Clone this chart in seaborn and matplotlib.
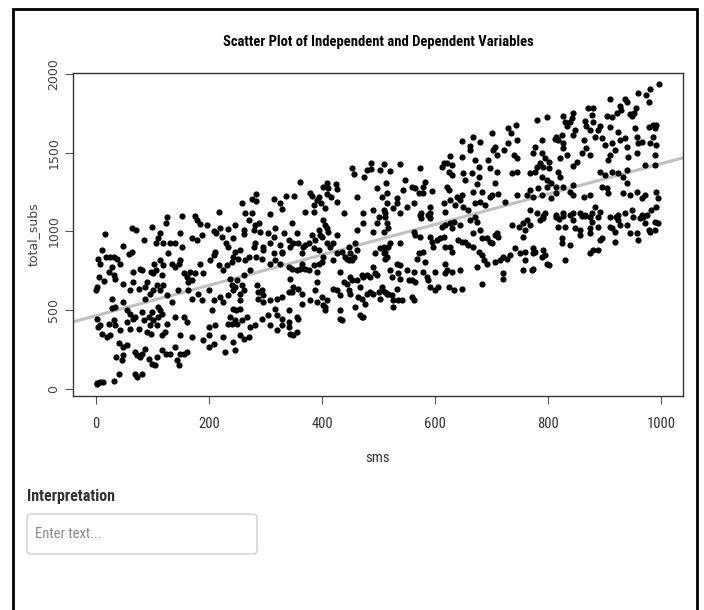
import os
import pandas as pd
import seaborn as sns
import matplotlib.pyplot as plt
from matplotlib import font_manager
from matplotlib.font_manager import FontProperties
from matplotlib.patches import Rectangle, FancyBboxPatch

# (sms, total_subs), split by region of the plot
pts_0_240 = [
    (126, 1094), (124, 1051), (152, 1098), (175, 1098), (179, 1072), (218, 1125), (184, 1047), (197, 1040),
    (209, 1004), (219, 1019), (234, 1015), (16, 983), (63, 1019), (71, 1009), (98, 1026), (84, 945),
    (113, 992), (109, 956), (106, 924), (119, 924), (130, 924), (140, 928), (149, 992), (152, 902),
    (169, 956), (178, 945), (187, 977), (213, 987), (222, 966), (230, 924), (234, 902), (48, 907),
    (63, 871), (59, 854), (10, 881), (4, 822), (18, 839), (24, 835), (31, 839), (37, 822), (42, 796),
    (28, 775), (22, 743), (31, 722), (7, 796), (5, 711), (14, 686), (1, 648), (0, 626), (34, 701),
    (48, 669), (65, 743), (78, 764), (81, 754), (66, 680), (60, 626), (75, 637), (87, 648), (90, 680),
    (97, 743), (100, 733), (106, 754), (103, 796), (113, 818), (118, 786), (116, 722), (107, 658),
    (113, 626), (101, 626), (96, 605), (87, 573), (128, 860), (134, 796), (140, 775), (146, 796),
    (149, 818), (155, 733), (160, 711), (163, 680), (169, 690), (166, 743), (175, 733), (184, 796),
    (190, 733), (181, 605), (169, 573), (163, 626), (145, 626), (134, 552), (125, 595), (119, 658),
    (202, 818), (208, 850), (211, 871), (217, 786), (225, 754), (231, 786), (219, 584), (225, 552),
    (234, 595), (199, 626), (208, 563), (205, 499), (187, 563), (28, 573), (28, 516), (34, 520),
    (48, 552), (54, 499), (60, 478), (69, 457), (66, 446), (81, 488), (84, 435), (93, 457), (96, 404),
    (99, 488), (110, 520), (113, 499), (110, 457), (116, 478), (101, 435), (1, 446), (4, 393),
    (10, 351), (7, 404), (22, 414), (31, 435), (34, 404), (42, 372), (54, 425), (60, 382), (75, 382),
    (90, 361), (97, 351), (107, 404), (116, 340), (122, 361), (125, 414), (140, 457), (155, 457),
    (160, 425), (149, 340), (169, 329), (199, 393), (199, 340), (211, 404), (225, 329), (234, 414),
    (19, 329), (25, 340), (41, 291), (48, 266), (54, 276), (35, 202), (45, 181), (48, 213), (69, 234),
    (72, 213), (78, 202), (81, 223), (87, 255), (93, 191), (99, 160), (104, 149), (107, 202),
    (116, 244), (124, 223), (131, 223), (143, 181), (146, 149), (149, 223), (155, 223), (140, 266),
    (160, 234), (190, 308), (199, 266), (208, 287), (228, 234), (69, 96), (72, 75), (81, 96),
    (1, 32), (2, 36), (7, 41), (12, 45), (31, 49), (41, 96),
]

pts_240_515_low = [
    (246, 1040), (243, 956), (261, 983), (262, 1009), (270, 1072), (282, 1040), (279, 1009), (282, 924),
    (290, 998), (289, 1051), (296, 881), (293, 828), (305, 987), (314, 966), (307, 924), (314, 860),
    (317, 1019), (326, 913), (329, 871), (332, 987), (341, 945), (343, 902), (346, 1051), (349, 924),
    (355, 987), (358, 924), (364, 860), (367, 902), (370, 913), (376, 924), (382, 977), (385, 892),
    (388, 945), (394, 1009), (397, 977), (395, 881), (399, 966), (402, 1072), (405, 1040), (408, 1019),
    (411, 998), (408, 924), (414, 902), (420, 924), (426, 977), (426, 860), (435, 871), (441, 839),
    (447, 902), (450, 860), (453, 828), (458, 924), (461, 881), (461, 1009), (473, 1051), (491, 998),
    (494, 860), (497, 1051), (500, 1094), (509, 902), (512, 871), (515, 839),
    (240, 807), (243, 839), (246, 871), (255, 881), (252, 828), (264, 818), (270, 839), (273, 754),
    (279, 902), (283, 839), (296, 902), (308, 796), (317, 818), (326, 796), (329, 860), (341, 775),
    (346, 764), (355, 754), (361, 764), (364, 796), (370, 764), (376, 754), (385, 786), (391, 743),
    (394, 796), (399, 807), (402, 839), (420, 818), (432, 743), (444, 828), (448, 818), (453, 818),
    (456, 839), (450, 711), (461, 690), (470, 722), (473, 711), (479, 722), (485, 711), (491, 775),
    (494, 733), (497, 722), (237, 701), (249, 690), (261, 722),
    (240, 658), (243, 626), (246, 648), (258, 658), (261, 626), (255, 605), (255, 563), (243, 510),
    (248, 499), (255, 510), (267, 457), (284, 658), (287, 616), (293, 626), (296, 595), (296, 552),
    (287, 573), (308, 563), (320, 573), (329, 584), (341, 616), (349, 648), (343, 701), (346, 616),
    (358, 637), (364, 605), (364, 542), (379, 563), (388, 626), (391, 680), (391, 552), (399, 584),
    (402, 531), (405, 520), (405, 499), (408, 563), (420, 637), (426, 626), (432, 595), (432, 499),
    (438, 680), (444, 669), (447, 626), (450, 605), (453, 690), (458, 520), (464, 584), (467, 648),
    (470, 573), (476, 542), (479, 605), (485, 616), (491, 605), (500, 616), (506, 626), (515, 605),
    (237, 457), (240, 414), (246, 435), (249, 414), (258, 435), (273, 393), (282, 404), (293, 446),
    (305, 467), (317, 510), (320, 467), (308, 404), (320, 372), (329, 446), (329, 404), (341, 499),
    (341, 425), (341, 393), (343, 351), (349, 340), (355, 361), (355, 457), (358, 446), (243, 297),
    (246, 244), (255, 340), (261, 319), (270, 329), (432, 446), (435, 435), (467, 467), (470, 457),
    (473, 457),
]

pts_240_500_high = [
    (258, 1178), (264, 1118), (276, 1114), (276, 1203), (283, 1237), (283, 1195), (308, 1110),
    (315, 1203), (326, 1182), (329, 1140), (336, 1224), (350, 1224), (361, 1316), (379, 1246),
    (382, 1224), (385, 1167), (391, 1199), (395, 1220), (398, 1178), (401, 1284), (409, 1309),
    (411, 1273), (408, 1237), (415, 1220), (425, 1301), (426, 1267), (426, 1188), (439, 1118),
    (453, 1401), (456, 1365), (461, 1216), (474, 1343), (479, 1390), (486, 1437), (486, 1394),
    (498, 1273), (491, 1135), (472, 1114), (405, 1146), (385, 1125), (370, 1125),
]

pts_500_765_high = [
    (730, 1655), (743, 1677), (734, 1624), (745, 1581), (700, 1624), (668, 1602), (679, 1570),
    (647, 1577), (661, 1543), (662, 1517), (706, 1539), (709, 1486), (722, 1517), (730, 1560),
    (739, 1486), (745, 1464), (736, 1369), (745, 1379), (694, 1454), (697, 1401), (703, 1517),
    (677, 1411), (671, 1454), (665, 1369), (677, 1348), (627, 1479), (647, 1475), (615, 1433),
    (621, 1433), (612, 1411), (630, 1422), (625, 1379), (630, 1358), (574, 1401), (538, 1428),
    (509, 1428), (503, 1390), (520, 1386), (513, 1305), (547, 1326), (544, 1263), (559, 1284),
    (565, 1273), (571, 1241), (579, 1284), (582, 1316), (594, 1258), (579, 1241), (621, 1284),
    (624, 1263), (638, 1220), (647, 1231), (644, 1199), (627, 1199), (650, 1369), (653, 1326),
    (674, 1301), (668, 1252), (683, 1252), (700, 1231), (706, 1305), (712, 1237), (724, 1188),
    (745, 1231), (762, 1231), (709, 1379), (680, 1188), (689, 1167), (697, 1220), (650, 1157),
    (659, 1135), (671, 1182), (635, 1167), (615, 1178), (618, 1125), (591, 1157), (591, 1114),
    (576, 1114), (562, 1178), (550, 1157), (532, 1210), (532, 1178), (515, 1241), (515, 1178),
    (509, 1135), (512, 1114), (506, 1220), (526, 1146), (538, 1114),
]

pts_500_765_low = [
    (512, 1094), (515, 1051), (517, 1019), (509, 998), (574, 1104), (576, 1083), (588, 1104),
    (591, 1083), (612, 1030), (618, 1040), (627, 1051), (630, 1019), (633, 1062), (644, 1040),
    (662, 1072), (671, 1094), (674, 1062), (680, 1009), (668, 987), (683, 956), (692, 956),
    (697, 934), (706, 977), (709, 987), (712, 966), (700, 924), (736, 1040), (748, 1030),
    (756, 1051), (762, 1072), (759, 1009), (756, 966), (562, 998), (565, 977), (574, 966),
    (591, 966), (594, 934), (597, 902), (603, 945), (609, 956), (615, 966), (618, 902), (627, 902),
    (630, 871), (641, 945), (647, 934), (653, 934), (659, 913), (668, 902), (677, 871), (683, 849),
    (686, 818), (692, 796), (706, 807), (715, 818), (721, 839), (727, 828), (733, 849), (742, 892),
    (750, 860), (759, 871), (759, 818), (756, 754), (503, 892), (509, 860), (512, 828), (517, 902),
    (520, 924), (538, 924), (532, 796), (538, 786), (520, 754), (523, 711), (535, 733), (538, 701),
    (550, 754), (553, 690), (559, 690), (565, 680), (562, 743), (568, 828), (571, 860), (579, 871),
    (582, 807), (579, 743), (585, 711), (588, 690), (591, 648), (600, 743), (606, 648), (600, 626),
    (618, 733), (618, 796), (621, 754), (624, 648), (630, 743), (633, 626), (644, 754), (647, 637),
    (674, 775), (683, 669), (721, 733), (721, 701), (506, 648), (503, 573), (512, 616), (517, 605),
    (523, 595), (526, 563), (526, 520), (535, 563), (541, 563), (532, 637), (559, 584), (562, 563),
]

pts_765_1000_high = [
    (997, 1936), (981, 1904), (973, 1868), (978, 1825), (960, 1878), (910, 1840), (936, 1840),
    (940, 1819), (927, 1798), (930, 1772), (956, 1783), (952, 1755), (946, 1747), (948, 1734),
    (923, 1751), (914, 1725), (905, 1734), (871, 1783), (879, 1783), (877, 1740), (845, 1751),
    (842, 1719), (827, 1734), (830, 1698), (839, 1698), (833, 1670), (798, 1725), (781, 1708),
    (865, 1704), (868, 1670), (880, 1698), (892, 1670), (910, 1666), (889, 1641), (874, 1641),
    (848, 1641), (844, 1613), (824, 1613), (814, 1602), (812, 1585), (827, 1560), (818, 1581),
    (827, 1528), (789, 1581), (777, 1539), (774, 1496), (789, 1500), (795, 1464), (786, 1433),
    (801, 1443), (792, 1411), (801, 1401), (780, 1411), (777, 1379), (768, 1369), (789, 1348),
    (798, 1326), (806, 1305), (815, 1284), (821, 1348), (818, 1379), (821, 1464), (833, 1486),
    (845, 1416), (851, 1443), (860, 1496), (863, 1581), (868, 1528), (874, 1486), (883, 1602),
    (895, 1592), (901, 1549), (913, 1560), (919, 1517), (924, 1634), (927, 1581), (936, 1592),
    (939, 1539), (954, 1655), (957, 1602), (960, 1560), (966, 1570), (978, 1666), (986, 1677),
    (989, 1655), (992, 1677), (986, 1602), (981, 1560), (992, 1549), (989, 1486), (989, 1422),
    (972, 1422), (957, 1496), (942, 1475), (939, 1390), (933, 1348), (924, 1369), (910, 1486),
    (907, 1454), (901, 1358), (913, 1379), (892, 1379), (895, 1284), (904, 1273), (907, 1241),
    (874, 1231), (863, 1220), (845, 1231), (839, 1252), (845, 1295), (827, 1284), (815, 1241),
    (806, 1210), (789, 1231), (774, 1220), (768, 1263), (933, 1241), (939, 1305), (945, 1231),
    (957, 1252), (966, 1210), (972, 1231), (992, 1252), (995, 1210), (992, 1157), (983, 1135),
    (975, 1104), (966, 1104), (948, 1135), (936, 1114), (924, 1104), (910, 1093), (892, 1125),
    (883, 1157), (877, 1114), (865, 1104), (857, 1114), (845, 1114), (839, 1104), (827, 1114),
    (815, 1104), (795, 1114), (780, 1114), (768, 1135), (783, 1273), (798, 1284),
]

pts_765_1000_low = [
    (768, 1040), (786, 1072), (792, 1083), (792, 1100), (815, 1094), (820, 1077), (827, 1100),
    (830, 1030), (818, 1030), (845, 1072), (848, 1019), (857, 1009), (857, 977), (860, 1100),
    (865, 1098), (874, 1094), (877, 1062), (874, 1019), (874, 987), (889, 1094), (889, 1030),
    (892, 945), (895, 956), (910, 1030), (913, 1019), (921, 1094), (924, 1072), (927, 1040),
    (919, 998), (919, 934), (951, 1094), (963, 1083), (969, 1094), (972, 1051), (978, 1009),
    (981, 998), (989, 1062), (989, 1009), (995, 1051), (957, 987), (960, 945), (939, 1040),
    (945, 987), (824, 956), (824, 924), (839, 913), (874, 860), (880, 881), (889, 881), (830, 818),
    (792, 881), (795, 849), (789, 839), (774, 892), (774, 860), (774, 764), (798, 796), (801, 786),
    (771, 754), (777, 871),
]

all_pts = (pts_0_240 + pts_240_515_low + pts_240_500_high + pts_500_765_high
           + pts_500_765_low + pts_765_1000_high + pts_765_1000_low)
df = pd.DataFrame(all_pts, columns=["sms", "total_subs"])


# look for a narrow / condensed face (the reference text is squeezed)
files = {os.path.basename(f.fname).lower(): f.fname for f in font_manager.fontManager.ttflist}


def narrow_font(bold, size):
    if bold:
        wanted = ["robotocondensed-bold.ttf", "liberationsansnarrow-bold.ttf",
                  "notosans-condensedbold.ttf", "opensans-condbold.ttf",
                  "dejavusanscondensed-bold.ttf"]
    else:
        wanted = ["robotocondensed-regular.ttf", "liberationsansnarrow-regular.ttf",
                  "notosans-condensed.ttf", "dejavusanscondensed.ttf"]
    for w in wanted:
        if w in files:
            return FontProperties(fname=files[w], size=size)
    for name, path in files.items():
        if ("condensed" in name or "narrow" in name) and not any(
                k in name for k in ["extra", "semi", "italic", "light", "medium", "thin", "black"]):
            if ("bold" in name) == bold:
                return FontProperties(fname=path, size=size)
    return FontProperties(family="Liberation Sans", weight="bold" if bold else "normal", size=size)


W, H = 704, 610
fig = plt.figure(figsize=(W / 100, H / 100), dpi=100)
fig.patch.set_facecolor("white")
ax = fig.add_axes([73 / W, 1 - 396 / H, (683 - 73) / W, (396 - 73) / H])
ax.set_xlim(-41, 1039)
ax.set_ylim(-45, 2006)

sns.scatterplot(data=df, x="sms", y="total_subs", color="black", s=20,
                linewidth=0, ax=ax, zorder=3)
sns.regplot(data=df, x="sms", y="total_subs", scatter=False, ci=None, truncate=False,
            color="#c0c0c0", line_kws={"linewidth": 2.2, "zorder": 2}, ax=ax)
ax.set_xlim(-41, 1039)
ax.set_ylim(-45, 2006)

for s in ax.spines.values():
    s.set_color("#333333")
    s.set_linewidth(1.0)
ax.set_xticks([0, 200, 400, 600, 800, 1000])
ax.set_yticks([0, 500, 1000, 1500, 2000])
ax.tick_params(axis="both", length=6, width=0.8, color="#555555", direction="out")
ax.tick_params(axis="x", pad=9)
ax.tick_params(axis="y", pad=3)
tick_font = narrow_font(False, 10.5)
for lab in ax.get_xticklabels():
    lab.set_fontproperties(tick_font)
    lab.set_color("#333333")
for lab in ax.get_yticklabels():
    lab.set_rotation(90)
    lab.set_va("center")
    lab.set_fontsize(9)
    lab.set_color("#444444")
ax.set_xlabel("")
ax.set_ylabel("")


def fx(x):
    return x / W


def fy(y):
    return 1 - y / H


fig.text(fx(378), fy(42), "Scatter Plot of Independent and Dependent Variables",
         ha="center", va="center", fontproperties=narrow_font(True, 10.5))
fig.text(fx(378), fy(458), "sms", ha="center", va="center",
         fontproperties=narrow_font(False, 10.5), color="#333333")
fig.text(fx(33), fy(234), "total_subs", ha="center", va="center", rotation=90,
         fontsize=9, color="#444444")
fig.text(fx(27), fy(497), "Interpretation", ha="left", va="center",
         fontproperties=narrow_font(True, 11.5), color="#333333")
fig.patches.append(FancyBboxPatch((fx(27), fy(554)), (257 - 27) / W, 40 / H,
                                  boxstyle="round,pad=0,rounding_size=0.006",
                                  transform=fig.transFigure, facecolor="white",
                                  edgecolor="#cfcfcf", linewidth=1.0))
fig.text(fx(35), fy(534), "Enter text...", ha="left", va="center",
         fontproperties=narrow_font(False, 10.5), color="#8a8a8a")

# outer frame of the page
fig.patches.append(Rectangle((fx(13), -0.02), (697 - 13) / W, fy(9) + 0.02,
                             transform=fig.transFigure, fill=False,
                             edgecolor="black", linewidth=2))

plt.savefig("out.png", dpi=100)
